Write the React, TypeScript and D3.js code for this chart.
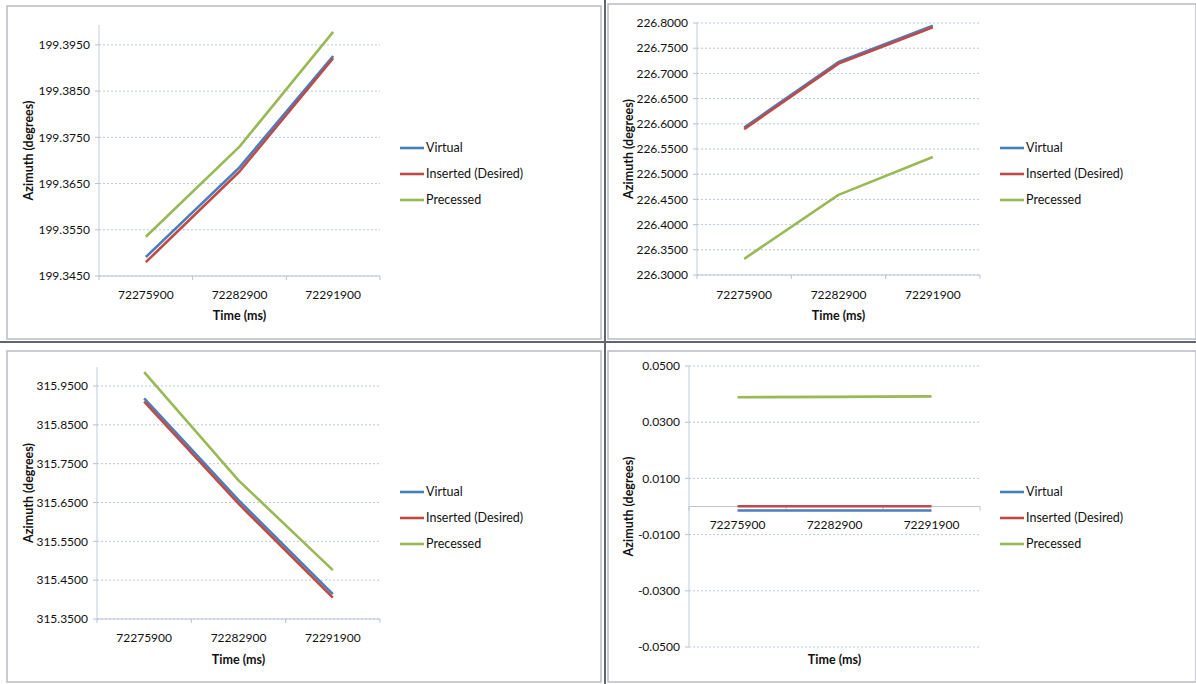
import React from "react";
import * as d3 from "d3";

// categories (time stamps, ms)
const times = ["72275900", "72282900", "72291900"];
const seriesNames = ["Virtual", "Inserted (Desired)", "Precessed"];
const seriesColors = ["#4a7ebb", "#be4b48", "#98b954"];

// panel 1 (top left)
const p1Virtual = [199.3491, 199.3685, 199.3926];
const p1Inserted = [199.348, 199.3676, 199.3921];
const p1Precessed = [199.3535, 199.373, 199.3978];
const p1Ticks = [199.345, 199.355, 199.365, 199.375, 199.385, 199.395];

// panel 2 (top right)
const p2Virtual = [226.5925, 226.7225, 226.7945];
const p2Inserted = [226.5895, 226.7195, 226.7915];
const p2Precessed = [226.332, 226.459, 226.534];
const p2Ticks = [226.3, 226.35, 226.4, 226.45, 226.5, 226.55, 226.6, 226.65, 226.7, 226.75, 226.8];

// panel 3 (bottom left)
const p3Virtual = [315.918, 315.656, 315.414];
const p3Inserted = [315.91, 315.647, 315.405];
const p3Precessed = [315.986, 315.707, 315.476];
const p3Ticks = [315.35, 315.45, 315.55, 315.65, 315.75, 315.85, 315.95];

// panel 4 (bottom right)
const p4Virtual = [-0.0014, -0.0014, -0.0014];
const p4Inserted = [0.0001, 0.0001, 0.0001];
const p4Precessed = [0.0389, 0.039, 0.0392];
const p4Ticks = [-0.05, -0.03, -0.01, 0.01, 0.03, 0.05];

const FONT = "Lato, 'Open Sans', sans-serif";

type PanelCfg = {
  frame: [number, number, number, number];
  plot: { x0: number; x1: number; yTop: number; yBot: number };
  domain: [number, number];
  ticks: number[];
  series: number[][];
  crossAt: number;
  xLabelY: number;
  titleX: number;
  timeY: number;
  legendX: number;
  legendY: number;
};

const panels: PanelCfg[] = [
  {
    frame: [7, 6, 594, 333],
    plot: { x0: 99, x1: 380, yTop: 25, yBot: 276 },
    domain: [199.345, 199.3993],
    ticks: p1Ticks,
    series: [p1Virtual, p1Inserted, p1Precessed],
    crossAt: 199.345,
    xLabelY: 299,
    titleX: 33,
    timeY: 320,
    legendX: 400,
    legendY: 148,
  },
  {
    frame: [608, 4, 588, 335],
    plot: { x0: 697, x1: 980, yTop: 23, yBot: 275 },
    domain: [226.3, 226.8],
    ticks: p2Ticks,
    series: [p2Virtual, p2Inserted, p2Precessed],
    crossAt: 226.3,
    xLabelY: 299,
    titleX: 633,
    timeY: 320,
    legendX: 1000,
    legendY: 148,
  },
  {
    frame: [7, 351, 594, 331],
    plot: { x0: 97, x1: 380, yTop: 367, yBot: 619 },
    domain: [315.35, 315.999],
    ticks: p3Ticks,
    series: [p3Virtual, p3Inserted, p3Precessed],
    crossAt: 315.35,
    xLabelY: 642,
    titleX: 33,
    timeY: 664,
    legendX: 400,
    legendY: 492,
  },
  {
    frame: [608, 351, 588, 331],
    plot: { x0: 689, x1: 980, yTop: 366, yBot: 647 },
    domain: [-0.05, 0.05],
    ticks: p4Ticks,
    series: [p4Virtual, p4Inserted, p4Precessed],
    crossAt: 0,
    xLabelY: 529,
    titleX: 633,
    timeY: 664,
    legendX: 1000,
    legendY: 492,
  },
];

const Panel = ({ cfg }: { cfg: PanelCfg }) => {
  const { plot } = cfg;
  const x = d3.scalePoint<string>().domain(times).range([plot.x0, plot.x1]).padding(0.5);
  const y = d3.scaleLinear().domain(cfg.domain).range([plot.yBot, plot.yTop]);
  const line = d3
    .line<number>()
    .x((_, i) => x(times[i]) as number)
    .y((d) => y(d));
  const step = x.step();
  const axisY = y(cfg.crossAt);
  // excel style labels, plain hyphen for negatives
  const fmt = (v: number) => v.toFixed(4);
  const boundaries = d3.range(times.length + 1).map((i) => plot.x0 + i * step);

  return (
    <g>
      <rect
        x={cfg.frame[0]}
        y={cfg.frame[1]}
        width={cfg.frame[2]}
        height={cfg.frame[3]}
        fill="#fff"
        stroke="#b9bcc4"
        strokeWidth={1.5}
      />
      {/* gridlines */}
      {cfg.ticks.map((t) => (
        <line
          key={"g" + t}
          x1={plot.x0}
          x2={plot.x1}
          y1={y(t)}
          y2={y(t)}
          stroke="#bcc7da"
          strokeDasharray="2,2"
          strokeWidth={1}
        />
      ))}
      {/* y axis */}
      <line x1={plot.x0} x2={plot.x0} y1={plot.yTop} y2={plot.yBot} stroke="#c3cad8" strokeWidth={1} />
      {cfg.ticks.map((t) => (
        <g key={"t" + t}>
          <line x1={plot.x0 - 4} x2={plot.x0} y1={y(t)} y2={y(t)} stroke="#b8c0cf" />
          <text
            x={plot.x0 - 9}
            y={y(t)}
            dy="0.35em"
            textAnchor="end"
            fontSize={12}
            fill="#111"
            fontFamily={FONT}
          >
            {fmt(t)}
          </text>
        </g>
      ))}
      {/* x axis */}
      <line x1={plot.x0} x2={plot.x1} y1={axisY} y2={axisY} stroke="#bcc5d6" strokeWidth={1} />
      {boundaries.map((b, i) => (
        <line key={"b" + i} x1={b} x2={b} y1={axisY} y2={axisY + 4} stroke="#b8c0cf" />
      ))}
      {times.map((c) => (
        <text
          key={c}
          x={x(c)}
          y={cfg.xLabelY}
          textAnchor="middle"
          fontSize={12}
          fill="#111"
          fontFamily={FONT}
        >
          {c}
        </text>
      ))}
      {/* series */}
      {cfg.series.map((s, i) => (
        <path
          key={seriesNames[i]}
          d={line(s) as string}
          fill="none"
          stroke={seriesColors[i]}
          strokeWidth={2.6}
          strokeLinejoin="round"
        />
      ))}
      {/* titles */}
      <text
        transform={`translate(${cfg.titleX},${(plot.yTop + plot.yBot) / 2}) rotate(-90)`}
        textAnchor="middle"
        fontSize={12.5}
        fontWeight="bold"
        fill="#111"
        fontFamily={FONT}
      >
        Azimuth (degrees)
      </text>
      <text
        x={(plot.x0 + plot.x1) / 2}
        y={cfg.timeY}
        textAnchor="middle"
        fontSize={12.5}
        fontWeight="bold"
        fill="#111"
        fontFamily={FONT}
      >
        Time (ms)
      </text>
      {/* legend */}
      {seriesNames.map((n, i) => (
        <g key={"l" + n} transform={`translate(${cfg.legendX},${cfg.legendY + i * 26})`}>
          <line x1={0} x2={24} y1={0} y2={0} stroke={seriesColors[i]} strokeWidth={2.6} />
          <text x={26} y={0} dy="0.35em" fontSize={12.5} fill="#111" fontFamily={FONT}>
            {n}
          </text>
        </g>
      ))}
    </g>
  );
};

const App = () => {
  return (
    <svg
      width={1196}
      height={684}
      style={{ position: "absolute", left: 0, top: 0, background: "#fff" }}
    >
      {panels.map((p, i) => (
        <Panel key={i} cfg={p} />
      ))}
      {/* dividers between the four charts */}
      <line x1={605} x2={605} y1={0} y2={684} stroke="#62656e" strokeWidth={2} />
      <line x1={0} x2={1196} y1={342} y2={342} stroke="#62656e" strokeWidth={2} />
    </svg>
  );
};

export default App;
